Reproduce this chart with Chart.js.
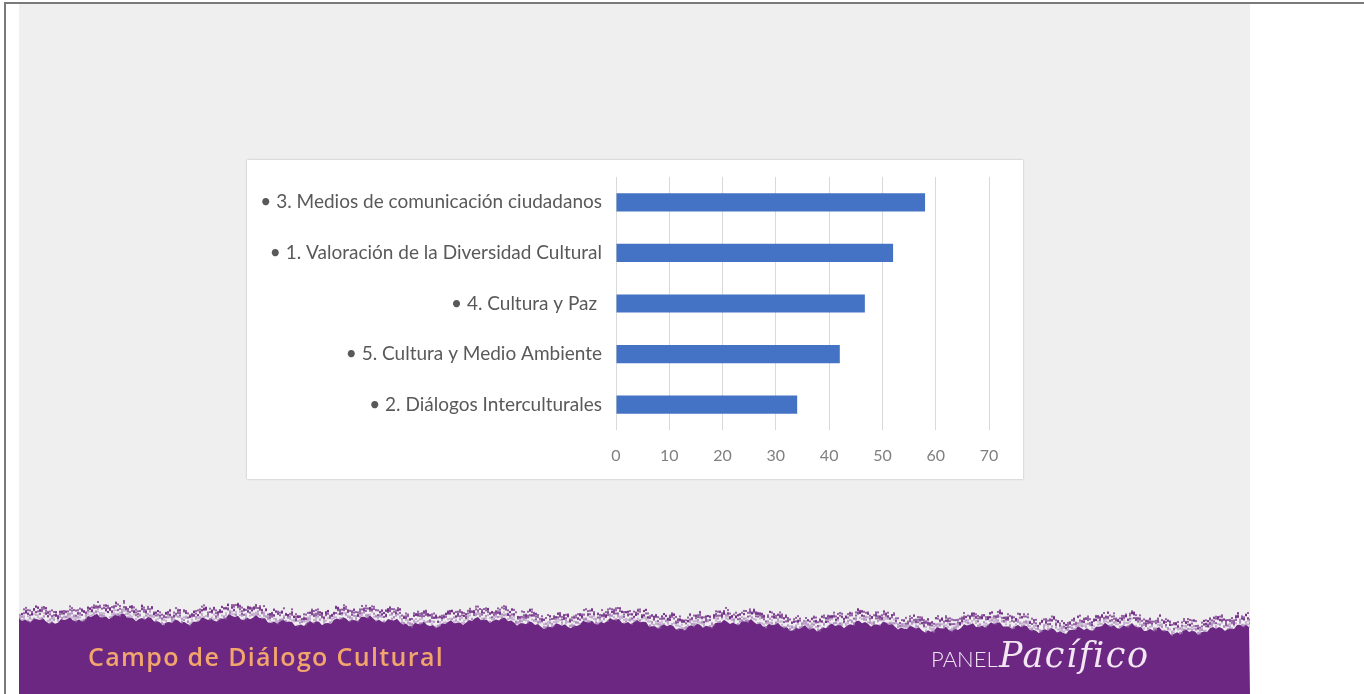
<!DOCTYPE html>
<html>
<head>
<meta charset="utf-8">
<script src="https://cdn.jsdelivr.net/npm/chart.js@4"></script>
<style>
  html, body { margin: 0; padding: 0; }
  body { width: 1364px; height: 694px; background: #ffffff; position: relative; overflow: hidden; font-family: Lato, sans-serif; }
  #frame { position: absolute; left: 4px; top: 2px; width: 1362px; height: 694px; border-top: 2px solid #7a7a7a; border-left: 2px solid #7a7a7a; }
  #slide { position: absolute; left: 19px; top: 4px; width: 1231px; height: 690px; background: #efefef; }
  #bannerCanvas { position: absolute; left: 19px; top: 590px; }
  #campo { position: absolute; left: 88px; top: 640px; font-family: "Open Sans", sans-serif; font-weight: 600; font-size: 25px; letter-spacing: 1.35px; color: #f2a66c; line-height: 32px; white-space: nowrap; }
  #panel { position: absolute; left: 931px; top: 646px; font-family: Lato, sans-serif; font-weight: 300; font-size: 22px; color: #f3e6f3; line-height: 26px; white-space: nowrap; }
  #pacifico { position: absolute; left: 999px; top: 633px; font-family: "DejaVu Serif", serif; font-style: italic; font-size: 35px; letter-spacing: 1.5px; color: #f3e6f3; line-height: 44px; white-space: nowrap; }
  #box { position: absolute; left: 247px; top: 160px; width: 776px; height: 319px; background: #ffffff; box-shadow: 0 0 2px rgba(0,0,0,0.25); }
  #box canvas { position: absolute; left: 0; top: 0; }
</style>
</head>
<body>
<div id="frame"></div>
<div id="slide"></div>
<canvas id="bannerCanvas" width="1231" height="104"></canvas>
<div id="campo">Campo de Diálogo Cultural</div>
<div id="panel">PANEL</div>
<div id="pacifico">Pacífico</div>
<div id="box"><canvas id="c" width="776" height="319"></canvas></div>
<script>
const categories = [
  "• 3. Medios de comunicación ciudadanos",
  "• 1. Valoración de la Diversidad Cultural",
  "• 4. Cultura y Paz ",
  "• 5. Cultura y Medio Ambiente",
  "• 2. Diálogos Interculturales"
];
const values = [58, 52, 46.7, 42, 34];
const axisMin = 0;
const axisMax = 70;
const axisStep = 10;

// decorative brushed purple banner
(function () {
  const cv = document.getElementById('bannerCanvas');
  const g = cv.getContext('2d');
  const W = cv.width, H = cv.height;
  const edge = (x) => 28 + x / W * 12 + 3 * Math.sin(x * 0.05) + 2 * Math.sin(x * 0.23) + 1.5 * Math.sin(x * 0.71);
  g.fillStyle = '#6b2782';
  g.beginPath();
  g.moveTo(0, H);
  for (let x = 0; x <= W; x += 3) g.lineTo(x, edge(x));
  g.lineTo(W, H);
  g.closePath();
  g.fill();
  for (let x = 0; x < W; x += 2) {
    for (let k = 0; k < 5; k++) {
      const s = Math.sin(x * 12.9898 + k * 78.233) * 43758.5453;
      const f = s - Math.floor(s);
      const y = edge(x) - 1 - f * 12;
      g.fillStyle = f > 0.45 ? 'rgba(107,39,130,0.7)' : 'rgba(160,120,180,0.5)';
      g.fillRect(x, y, 2, 2);
    }
  }
})();

new Chart(document.getElementById('c'), {
  type: 'bar',
  data: {
    labels: categories,
    datasets: [{
      data: values,
      backgroundColor: '#4472c4',
      borderWidth: 0,
      categoryPercentage: 1,
      barPercentage: 0.36
    }]
  },
  options: {
    indexAxis: 'y',
    responsive: false,
    animation: false,
    layout: { padding: { top: 17, right: 34, left: 0, bottom: 0 } },
    plugins: { legend: { display: false }, tooltip: { enabled: false } },
    scales: {
      x: {
        min: axisMin, max: axisMax,
        ticks: { stepSize: axisStep, color: '#7f7f7f', font: { family: 'Lato', size: 16 }, padding: 16 },
        grid: { color: '#d9d9d9', drawTicks: false, lineWidth: 1 },
        border: { display: false },
        afterFit: (s) => { s.height = 49; }
      },
      y: {
        ticks: { color: '#595959', font: { family: 'Lato', size: 19 }, padding: 14 },
        grid: { display: false, drawTicks: false },
        border: { display: false },
        afterFit: (s) => { s.width = 369; s.paddingTop = 0; s.paddingBottom = 0; }
      }
    }
  }
});
</script>
</body>
</html>
